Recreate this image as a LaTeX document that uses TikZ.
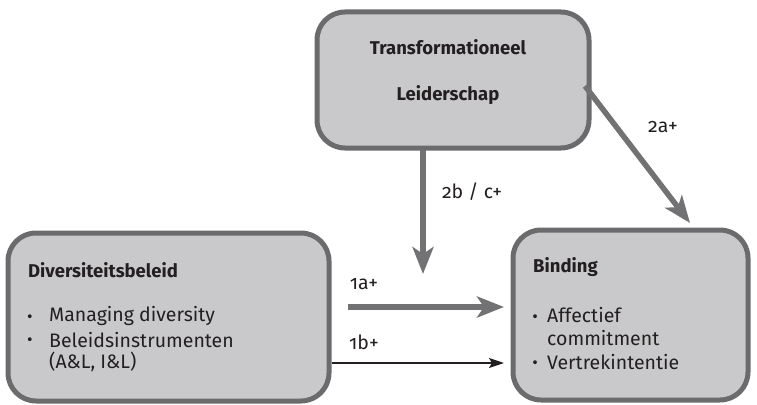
\documentclass[tikz,border=0pt]{standalone}
\usepackage{fontspec}
\setmainfont{Fira Sans}[Numbers=OldStyle]
\usetikzlibrary{arrows.meta}
\definecolor{boxfill}{HTML}{C9C9CB}
\definecolor{boxline}{HTML}{6B6B6D}
\definecolor{arrgray}{HTML}{727274}
\definecolor{txt}{HTML}{231F20}
\tikzset{
  box/.style={draw=boxline, line width=5pt, fill=boxfill, rounded corners=28pt, inner sep=0pt},
  grayarrow/.style={draw=arrgray, line width=5.5pt, -{Stealth[length=27pt,width=21pt,inset=7pt]}},
  blackarrow/.style={draw=txt, line width=1.8pt, -{Stealth[length=15pt,width=10pt,inset=3pt]}},
  ttl/.style={font=\fontsize{18.5}{21}\selectfont\bfseries, text=txt, inner sep=0pt},
  itm/.style={font=\fontsize{19.5}{22}\selectfont, text=txt, inner sep=0pt, anchor=west},
  bul/.style={font=\fontsize{17}{19}\selectfont, text=txt, inner sep=0pt},
  lbl/.style={font=\fontsize{19.5}{22}\selectfont, text=txt, inner sep=0pt},
}
\begin{document}
\begin{tikzpicture}[x=1pt,y=-1pt]
\useasboundingbox (0,0) rectangle (757,404);
% boxes
\node[box, minimum width=272pt, minimum height=136pt] (tl) at (453,80) {};
\node[box, minimum width=321pt, minimum height=168pt] (div) at (168.5,317) {};
\node[box, minimum width=235pt, minimum height=170pt] (bind) at (630.5,315) {};
% top box text
\node[ttl] (t1) at (448,47) {Transformationeel};
\node[ttl] (t2) at (448,95) {Leiderschap};
% left box text
\node[ttl, anchor=west] (d0) at (28,270) {Diversiteitsbeleid};
\node[bul] (d1b) at (30,319) {•};
\node[itm] (d1) at (49,316) {Managing diversity};
\node[bul] (d2b) at (30,342) {•};
\node[itm] (d2) at (49,340) {Beleidsinstrumenten};
\node[itm] (d3) at (49,362) {(A\&L, I\&L)};
% right box text
\node[ttl, anchor=west] (b0) at (533,267) {Binding};
\node[bul] (b1b) at (535,319) {•};
\node[itm] (b1) at (547,315) {Affectief};
\node[itm] (b2) at (547,338) {commitment};
\node[bul] (b3b) at (535,365) {•};
\node[itm] (b3) at (547,362) {Vertrekintentie};
% connectors
\coordinate (vtop) at (423,150);
\coordinate (vend) at (423,274);
\draw[grayarrow] (vtop) -- (vend);
\coordinate (astart) at (585,86);
\coordinate (aend) at (690,223);
\draw[grayarrow] (astart) -- (aend);
\coordinate (s1a) at (348,307);
\coordinate (e1a) at (504,307);
\draw[grayarrow] (s1a) -- (e1a);
\coordinate (e1b) at (504,363);
\draw[blackarrow] (div.east |- e1b) -- (e1b);
% labels
\node[lbl] (l2b) at (472,192) {2b / c+};
\node[lbl] (l2a) at (663,127) {2a+};
\node[lbl] (l1a) at (364,284) {1a+};
\node[lbl] (l1b) at (364,342) {1b+};
\end{tikzpicture}
\end{document}
